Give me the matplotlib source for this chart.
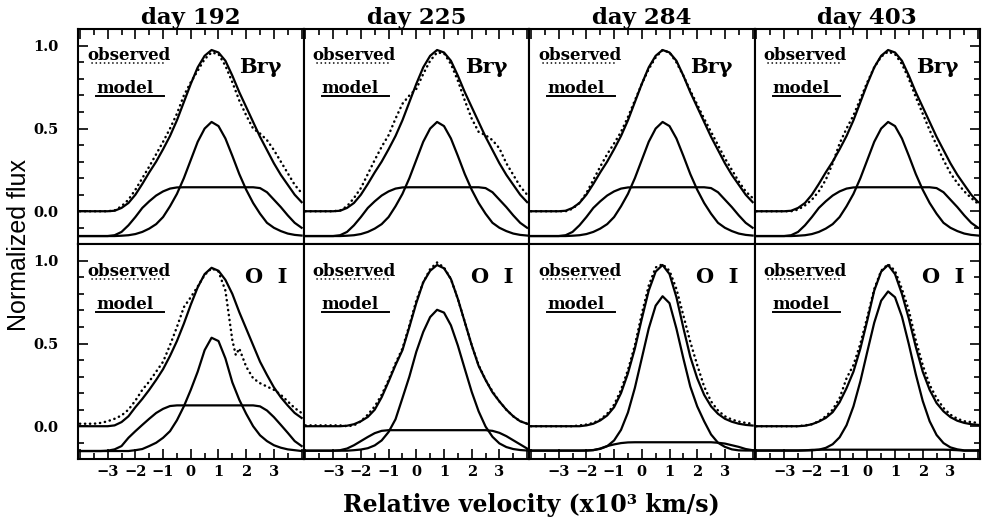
import matplotlib
matplotlib.use('Agg')
import matplotlib.pyplot as plt
from matplotlib.ticker import MultipleLocator, FuncFormatter

# velocity grid (x10^3 km/s)
vel = [-4.0, -3.75, -3.5, -3.25, -3.0, -2.75, -2.5, -2.25, -2.0, -1.75, -1.5,
       -1.25, -1.0, -0.75, -0.5, -0.25, 0.0, 0.25, 0.5, 0.75, 1.0, 1.25, 1.5,
       1.75, 2.0, 2.25, 2.5, 2.75, 3.0, 3.25, 3.5, 3.75, 4.0]
vel_oi_obs_192 = [-4.0, -3.75, -3.5, -3.25, -3.0, -2.75, -2.5, -2.25, -2.0, -1.75, -1.5,
                  -1.25, -1.0, -0.75, -0.5, -0.25, 0.0, 0.25, 0.5, 0.75, 1.0, 1.25, 1.5,
                  1.625, 1.75, 2.0, 2.25, 2.5, 2.75, 3.0, 3.25, 3.5, 3.75, 4.0]

days = ['day 192', 'day 225', 'day 284', 'day 403']
lines = ['Brγ', 'O  I']

# Br gamma model (same for all epochs)
brg_total = [0.0, 0.0, 0.0, 0.0, 0.0, 0.003, 0.02, 0.05, 0.10, 0.165, 0.235, 0.30, 0.375,
             0.455, 0.55, 0.66, 0.77, 0.87, 0.94, 0.975, 0.96, 0.91, 0.82, 0.72, 0.63,
             0.54, 0.45, 0.37, 0.29, 0.22, 0.16, 0.10, 0.055]
brg_core = [-0.15, -0.15, -0.15, -0.15, -0.15, -0.15, -0.148, -0.145, -0.138, -0.125,
            -0.105, -0.078, -0.035, 0.03, 0.105, 0.20, 0.31, 0.42, 0.50, 0.54, 0.515,
            0.44, 0.335, 0.225, 0.13, 0.05, -0.015, -0.07, -0.10, -0.12, -0.135, -0.143,
            -0.147]
brg_broad = [-0.15, -0.15, -0.15, -0.15, -0.15, -0.145, -0.125, -0.085, -0.035, 0.02,
             0.06, 0.095, 0.12, 0.137, 0.144, 0.145, 0.145, 0.145, 0.145, 0.145, 0.145,
             0.145, 0.145, 0.145, 0.145, 0.145, 0.14, 0.115, 0.07, 0.025, -0.025, -0.07,
             -0.10]

# Br gamma observed
brg_obs_192 = [0.0, 0.0, 0.0, 0.0, 0.0, 0.005, 0.03, 0.07, 0.13, 0.20, 0.27, 0.345, 0.42,
               0.50, 0.59, 0.70, 0.78, 0.85, 0.92, 0.96, 0.95, 0.88, 0.78, 0.67, 0.58,
               0.50, 0.47, 0.43, 0.37, 0.30, 0.23, 0.16, 0.11]
brg_obs_225 = [0.0, 0.0, 0.0, 0.0, 0.0, 0.005, 0.03, 0.08, 0.14, 0.225, 0.31, 0.39, 0.46,
               0.56, 0.65, 0.70, 0.74, 0.83, 0.91, 0.96, 0.955, 0.89, 0.79, 0.67, 0.56,
               0.48, 0.46, 0.43, 0.38, 0.29, 0.22, 0.15, 0.10]
brg_obs_284 = [0.0, 0.0, 0.0, 0.0, 0.0, 0.0, 0.015, 0.05, 0.11, 0.19, 0.27, 0.345, 0.41,
               0.48, 0.57, 0.67, 0.77, 0.86, 0.93, 0.975, 0.96, 0.90, 0.82, 0.73, 0.645,
               0.56, 0.48, 0.40, 0.32, 0.25, 0.18, 0.12, 0.08]
brg_obs_403 = [0.0, 0.0, 0.0, 0.0, 0.0, 0.0, 0.01, 0.035, 0.07, 0.12, 0.19, 0.29, 0.41,
               0.50, 0.58, 0.68, 0.78, 0.87, 0.935, 0.965, 0.95, 0.89, 0.80, 0.69, 0.59,
               0.49, 0.40, 0.31, 0.23, 0.17, 0.12, 0.08, 0.045]

# O I model
oi_total_192 = [0.0, 0.0, 0.0, 0.0, 0.0, 0.005, 0.025, 0.06, 0.115, 0.165, 0.22, 0.28,
                0.345, 0.425, 0.515, 0.62, 0.735, 0.84, 0.92, 0.958, 0.94, 0.885, 0.80,
                0.69, 0.59, 0.49, 0.39, 0.31, 0.235, 0.175, 0.125, 0.08, 0.05]
oi_core_192 = [-0.15, -0.15, -0.15, -0.15, -0.15, -0.15, -0.15, -0.15, -0.145, -0.138,
               -0.12, -0.10, -0.07, -0.03, 0.036, 0.12, 0.22, 0.33, 0.46, 0.535, 0.515,
               0.41, 0.265, 0.16, 0.075, 0.0, -0.055, -0.09, -0.115, -0.13, -0.14, -0.145,
               -0.15]
oi_broad_192 = [-0.15, -0.15, -0.15, -0.15, -0.148, -0.14, -0.12, -0.07, -0.03, 0.008,
                0.045, 0.08, 0.105, 0.122, 0.126, 0.126, 0.126, 0.126, 0.126, 0.126,
                0.126, 0.126, 0.126, 0.126, 0.126, 0.126, 0.12, 0.095, 0.055, 0.008,
                -0.04, -0.09, -0.12]

oi_total_225 = [0.0, 0.0, 0.0, 0.0, 0.0, 0.0, 0.003, 0.012, 0.03, 0.056, 0.10, 0.175,
                0.27, 0.37, 0.46, 0.60, 0.745, 0.87, 0.94, 0.975, 0.955, 0.89, 0.77,
                0.63, 0.49, 0.365, 0.28, 0.205, 0.15, 0.10, 0.06, 0.03, 0.015]
oi_core_225 = [-0.148, -0.148, -0.148, -0.148, -0.148, -0.148, -0.148, -0.145, -0.141,
               -0.133, -0.116, -0.086, -0.035, 0.042, 0.17, 0.30, 0.45, 0.57, 0.66,
               0.704, 0.687, 0.61, 0.488, 0.347, 0.208, 0.09, -0.002, -0.064, -0.104,
               -0.126, -0.138, -0.144, -0.147]
oi_broad_225 = [-0.148, -0.148, -0.148, -0.148, -0.148, -0.145, -0.135, -0.115, -0.09,
                -0.065, -0.042, -0.028, -0.024, -0.024, -0.024, -0.024, -0.024, -0.024,
                -0.024, -0.024, -0.024, -0.024, -0.024, -0.024, -0.024, -0.024, -0.024,
                -0.028, -0.04, -0.06, -0.085, -0.11, -0.135]

oi_total_284 = [0.0, 0.0, 0.0, 0.0, 0.0, 0.0, 0.0, 0.0, 0.005, 0.015, 0.035, 0.065, 0.115,
                0.20, 0.32, 0.47, 0.65, 0.82, 0.935, 0.975, 0.92, 0.78, 0.595, 0.42, 0.29,
                0.19, 0.12, 0.075, 0.045, 0.027, 0.015, 0.008, 0.004]
oi_core_284 = [-0.147, -0.147, -0.147, -0.147, -0.147, -0.147, -0.147, -0.147, -0.147,
               -0.144, -0.137, -0.121, -0.086, -0.022, 0.083, 0.232, 0.411, 0.591, 0.729,
               0.786, 0.744, 0.59, 0.41, 0.24, 0.12, 0.03, -0.05, -0.10, -0.125, -0.14,
               -0.146, -0.147, -0.147]
oi_broad_284 = [-0.148, -0.148, -0.148, -0.148, -0.148, -0.148, -0.148, -0.148, -0.147,
                -0.145, -0.135, -0.12, -0.11, -0.102, -0.098, -0.097, -0.097, -0.097,
                -0.097, -0.097, -0.097, -0.097, -0.097, -0.097, -0.097, -0.097, -0.097,
                -0.10, -0.105, -0.115, -0.125, -0.138, -0.145]

oi_total_403 = [0.0, 0.0, 0.0, 0.0, 0.0, 0.0, 0.0, 0.003, 0.012, 0.028, 0.05, 0.085, 0.145,
                0.23, 0.33, 0.47, 0.64, 0.82, 0.935, 0.975, 0.92, 0.80, 0.65, 0.48, 0.33,
                0.22, 0.14, 0.09, 0.055, 0.033, 0.02, 0.012, 0.008]
oi_core_403 = [-0.146, -0.146, -0.146, -0.146, -0.146, -0.146, -0.146, -0.146, -0.146,
               -0.142, -0.131, -0.109, -0.067, 0.006, 0.12, 0.272, 0.451, 0.626, 0.759,
               0.815, 0.78, 0.663, 0.495, 0.314, 0.153, 0.03, -0.053, -0.102, -0.128,
               -0.14, -0.146, -0.146, -0.146]
oi_broad_403 = [-0.148, -0.148, -0.148, -0.148, -0.148, -0.148, -0.148, -0.146, -0.143,
                -0.142, -0.142, -0.142, -0.142, -0.142, -0.142, -0.142, -0.142, -0.142,
                -0.142, -0.142, -0.142, -0.142, -0.142, -0.142, -0.142, -0.142, -0.142,
                -0.142, -0.143, -0.145, -0.148, -0.148, -0.148]

# O I observed
oi_obs_192 = [0.015, 0.015, 0.015, 0.02, 0.03, 0.045, 0.065, 0.10, 0.155, 0.22, 0.27,
              0.33, 0.39, 0.49, 0.60, 0.72, 0.78, 0.845, 0.915, 0.955, 0.935, 0.82, 0.52,
              0.43, 0.47, 0.36, 0.29, 0.26, 0.24, 0.22, 0.19, 0.15, 0.11, 0.08]
oi_obs_225 = [0.005, 0.005, 0.005, 0.005, 0.005, 0.005, 0.0, 0.005, 0.03, 0.07, 0.12,
              0.19, 0.28, 0.38, 0.47, 0.61, 0.76, 0.87, 0.95, 0.99, 0.96, 0.89, 0.77,
              0.63, 0.49, 0.37, 0.28, 0.21, 0.15, 0.10, 0.06, 0.03, 0.015]
oi_obs_284 = [0.0, 0.0, 0.0, 0.0, 0.0, 0.0, 0.0, 0.005, 0.01, 0.02, 0.04, 0.075, 0.13,
              0.22, 0.34, 0.49, 0.68, 0.85, 0.96, 0.98, 0.94, 0.83, 0.67, 0.51, 0.37,
              0.24, 0.15, 0.095, 0.06, 0.04, 0.028, 0.02, 0.015]
oi_obs_403 = [0.0, 0.0, 0.0, 0.0, 0.0, 0.0, 0.0, 0.005, 0.012, 0.03, 0.06, 0.10, 0.17,
              0.29, 0.37, 0.50, 0.66, 0.83, 0.94, 0.98, 0.94, 0.83, 0.70, 0.52, 0.37,
              0.25, 0.17, 0.11, 0.07, 0.045, 0.03, 0.025, 0.02]

top_obs = [brg_obs_192, brg_obs_225, brg_obs_284, brg_obs_403]
bot_models = [(oi_total_192, oi_core_192, oi_broad_192),
              (oi_total_225, oi_core_225, oi_broad_225),
              (oi_total_284, oi_core_284, oi_broad_284),
              (oi_total_403, oi_core_403, oi_broad_403)]
bot_obs = [(vel_oi_obs_192, oi_obs_192), (vel, oi_obs_225), (vel, oi_obs_284), (vel, oi_obs_403)]

serif = 'DejaVu Serif'
dotted = dict(color='k', lw=1.8, linestyle=(0, (0.1, 1.9)), dash_capstyle='round')
solid = dict(color='k', lw=1.6)


def vfmt(x, pos):
    if abs(x) > 3.5:
        return ''
    return '%d' % round(x) if x >= 0 else '\u2212%d' % round(-x)


def yfmt(y, pos):
    return '%.1f' % (0.0 if abs(y) < 1e-9 else y)


fig, axes = plt.subplots(2, 4, sharex=True, sharey=True, figsize=(9.84, 5.24), dpi=100)
fig.subplots_adjust(left=0.0793, right=0.996, bottom=0.1235, top=0.944, wspace=0, hspace=0)

for row in range(2):
    for col in range(4):
        ax = axes[row, col]
        if row == 0:
            for yy in (brg_total, brg_core, brg_broad):
                ax.plot(vel, yy, **solid)
            ax.plot(vel, top_obs[col], **dotted)
            ax.set_title(days[col], fontsize=16.5, fontweight='bold', family=serif, pad=3)
            ty, ly, my, mly = 0.88, 0.842, 0.725, 0.688
            ax.text(0.81, 0.823, lines[0], transform=ax.transAxes, fontsize=15,
                    fontweight='bold', family=serif, ha='center', va='center')
        else:
            for yy in bot_models[col]:
                ax.plot(vel, yy, **solid)
            ax.plot(bot_obs[col][0], bot_obs[col][1], **dotted)
            ty, ly, my, mly = 0.874, 0.838, 0.72, 0.686
            ax.text(0.835, 0.85, lines[1], transform=ax.transAxes, fontsize=15,
                    fontweight='bold', family=serif, ha='center', va='center')

        # observed / model key
        ax.text(0.04, ty, 'observed', transform=ax.transAxes, fontsize=12,
                fontweight='bold', family=serif, va='center', ha='left')
        ax.plot([0.06, 0.385], [ly, ly], transform=ax.transAxes, color='k', lw=1.2,
                linestyle=(0, (0.1, 2.4)), dash_capstyle='round')
        ax.text(0.08, my, 'model', transform=ax.transAxes, fontsize=12,
                fontweight='bold', family=serif, va='center', ha='left')
        ax.plot([0.08, 0.38], [mly, mly], transform=ax.transAxes, color='k', lw=1.4)

        ax.set_xlim(-4.07, 4.07)
        ax.set_ylim(-0.2, 1.1)
        ax.xaxis.set_major_locator(MultipleLocator(1))
        ax.xaxis.set_minor_locator(MultipleLocator(0.5))
        ax.yaxis.set_major_locator(MultipleLocator(0.5))
        ax.yaxis.set_minor_locator(MultipleLocator(0.1))
        ax.xaxis.set_major_formatter(FuncFormatter(vfmt))
        ax.yaxis.set_major_formatter(FuncFormatter(yfmt))
        ax.tick_params(which='both', direction='in', width=1.2,
                       top=(row == 0), bottom=(row == 1),
                       left=(col == 0), right=(col == 3),
                       labelbottom=(row == 1), labelleft=(col == 0))
        ax.tick_params(which='major', length=7)
        ax.tick_params(which='minor', length=4)
        ax.tick_params(axis='x', pad=4)
        ax.tick_params(axis='y', pad=14)
        for lab in ax.get_xticklabels() + ax.get_yticklabels():
            lab.set_fontfamily(serif)
            lab.set_fontweight('bold')
            lab.set_fontsize(10.5)
        for sp in ax.spines.values():
            sp.set_linewidth(1.5)

fig.text(0.54, 0.036, 'Relative velocity (x10\u00b3 km/s)', ha='center', va='center',
         fontsize=17, fontweight='bold', family=serif)
fig.text(0.019, 0.532, 'Normalized flux', rotation=90, ha='center', va='center',
         fontsize=18, family='Liberation Sans')

fig.savefig('out.png', dpi=100)
